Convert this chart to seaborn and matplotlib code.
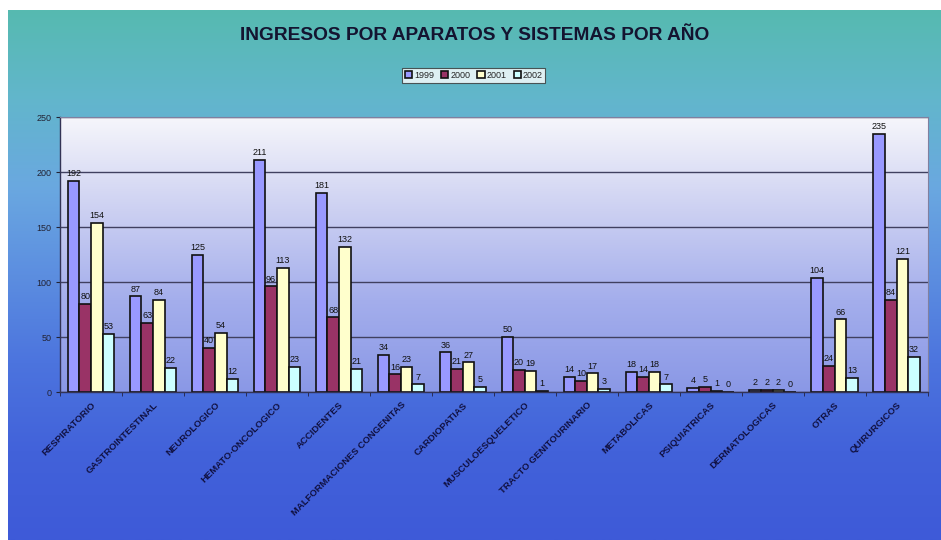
import numpy as np
import pandas as pd
import matplotlib
matplotlib.use("Agg")
import matplotlib.pyplot as plt
from matplotlib.colors import LinearSegmentedColormap
from matplotlib.ticker import FixedLocator
import seaborn as sns

categories = ["RESPIRATORIO", "GASTROINTESTINAL", "NEUROLOGICO", "HEMATO-ONCOLOGICO",
              "ACCIDENTES", "MALFORMACIONES CONGENITAS", "CARDIOPATIAS",
              "MUSCULOESQUELETICO", "TRACTO GENITOURINARIO", "METABOLICAS",
              "PSIQUIATRICAS", "DERMATOLOGICAS", "OTRAS", "QUIRURGICOS"]
years = ["1999", "2000", "2001", "2002"]
v1999 = [192, 87, 125, 211, 181, 34, 36, 50, 14, 18, 4, 2, 104, 235]
v2000 = [80, 63, 40, 96, 68, 16, 21, 20, 10, 14, 5, 2, 24, 84]
v2001 = [154, 84, 54, 113, 132, 23, 27, 19, 17, 18, 1, 2, 66, 121]
v2002 = [53, 22, 12, 23, 21, 7, 5, 1, 3, 7, 0, 0, 13, 32]
yticks = [0, 50, 100, 150, 200, 250]

series = [v1999, v2000, v2001, v2002]
rows = []
for y, vals in zip(years, series):
    for c, v in zip(categories, vals):
        rows.append({"cat": c, "year": y, "val": v})
df = pd.DataFrame(rows)

palette = {"1999": "#9999FF", "2000": "#993366", "2001": "#FFFFCC", "2002": "#CCFFFF"}

sns.set_style("white")
plt.rcParams['font.family'] = ['Liberation Sans', 'DejaVu Sans']

fig = plt.figure(figsize=(9.41, 5.40), dpi=100)
fig.patch.set_facecolor("white")

# figure background gradient (small white margin at left/top)
bg = fig.add_axes([8 / 941, 0, 1 - 8 / 941, 1 - 10 / 540], zorder=-10)
cm_bg = LinearSegmentedColormap.from_list(
    "bg", ["#56bab0", "#62b6cc", "#6aa8e0", "#5c8ee0", "#4c74de", "#4262da", "#3e5ad8"])
grad = np.linspace(0, 1, 256).reshape(-1, 1)
bg.imshow(grad, aspect="auto", cmap=cm_bg, extent=[0, 1, 0, 1], origin="upper")
bg.set_axis_off()

ax = fig.add_axes([0.0638, 0.274, 0.922, 0.509])
ax.set_facecolor("none")
cm_pl = LinearSegmentedColormap.from_list("pl", ["#f6f6fb", "#cdd1f2", "#a4aeec", "#8a98e6"])
sns.barplot(data=df, x="cat", y="val", hue="year", palette=palette, ax=ax,
            edgecolor="#111111", linewidth=1.2, width=0.75, saturation=1, legend=True)
ax.imshow(grad, aspect="auto", cmap=cm_pl, extent=[-0.5, len(categories) - 0.5, 0, 250],
          origin="upper", zorder=-5)
ax.set_xlim(-0.5, len(categories) - 0.5)
ax.set_ylim(0, 250)
ax.set_yticks(yticks)
ax.yaxis.grid(True, color="#404060", linewidth=1.0)
ax.set_axisbelow(True)
for cont in ax.containers:
    ax.bar_label(cont, fontsize=6.5, color="#111111", padding=2)

ax.set_xlabel("")
ax.set_ylabel("")
ax.tick_params(axis="y", labelsize=6.5, colors="#222233", length=3, pad=3, direction="out", left=True)
ax.set_xticks(range(len(categories)))
ax.set_xticklabels(categories, rotation=45, ha="right", rotation_mode="anchor",
                   fontsize=6.8, color="#101040", fontweight="bold")
ax.tick_params(axis="x", which="major", length=0, pad=6)
ax.xaxis.set_minor_locator(FixedLocator(np.arange(-0.5, len(categories), 1.0)))
ax.tick_params(axis="x", which="minor", length=3, color="#222244", bottom=True)
for s in ["top", "right"]:
    ax.spines[s].set_color("#8080a0")
    ax.spines[s].set_linewidth(0.8)
for s in ["left", "bottom"]:
    ax.spines[s].set_color("#333355")
    ax.spines[s].set_linewidth(1.0)

leg = ax.legend(loc="center", bbox_to_anchor=(0.477, 1.152), ncol=4, fontsize=6.5,
                frameon=True, fancybox=False, edgecolor="#333333", handlelength=0.8,
                handleheight=0.8, handletextpad=0.2, columnspacing=0.8, borderpad=0.3)
leg.get_frame().set_facecolor("white")
leg.get_frame().set_linewidth(0.8)

fig.text(0.5045, 0.934, "INGRESOS POR APARATOS Y SISTEMAS POR AÑO", ha="center", va="center",
         fontsize=13.8, fontweight="bold", color="#141430")

fig.savefig("out.png", dpi=100)
